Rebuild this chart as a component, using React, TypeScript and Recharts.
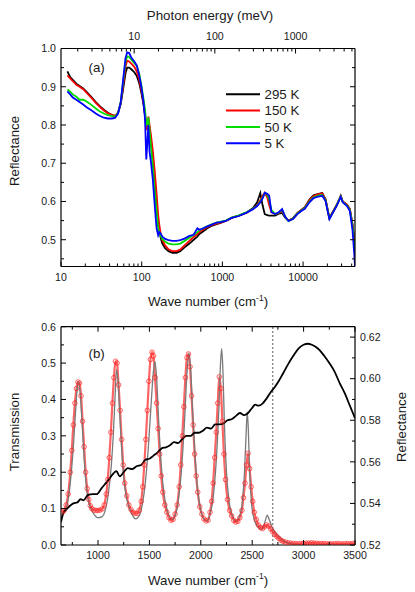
import React from 'react';
import { LineChart, Line, XAxis, YAxis, ReferenceLine, Legend } from 'recharts';

const FONT = '"Liberation Sans", Arial, Helvetica, sans-serif';
const TXT = '#1a1a1a';

// ---------- Panel (a): reflectance vs wave number (log) ----------
const waveNumberA = [
  12, 13, 14, 15.5, 17, 19, 21, 24, 27, 30,
  34, 38, 43, 47, 51, 55, 59, 63, 66, 70,
  75, 81, 87, 93, 99, 105, 110, 114, 118, 121,
  125, 130, 137, 145, 153, 160, 165, 172, 180, 195,
  215, 240, 270, 300, 340, 390, 440, 490, 520, 580,
  650, 750, 850, 950, 1100, 1300, 1600, 2000, 2400, 2700,
  2950, 3150, 3350, 3600, 3800, 4050, 4500, 5000, 5500, 6000,
  6600, 7500, 8500, 9500, 10500, 12000, 13500, 15500, 17300, 19000,
  20300, 21200, 23000, 26000, 28000, 29300, 31000, 35000, 38000, 41000,
  43000, 44000,
];
const refl295K = [
  0.940, 0.925, 0.918, 0.908, 0.902, 0.895, 0.885, 0.872, 0.860, 0.850,
  0.840, 0.832, 0.826, 0.824, 0.832, 0.855, 0.895, 0.935, 0.950, 0.950,
  0.945, 0.938, 0.928, 0.910, 0.885, 0.855, 0.825, 0.790, 0.790, 0.812,
  0.790, 0.760, 0.720, 0.650, 0.590, 0.548, 0.525, 0.505, 0.490, 0.478,
  0.470, 0.466, 0.466, 0.470, 0.480, 0.490, 0.500, 0.508, 0.515, 0.522,
  0.530, 0.537, 0.541, 0.544, 0.549, 0.557, 0.563, 0.571, 0.583, 0.598,
  0.622, 0.590, 0.567, 0.564, 0.563, 0.563, 0.563, 0.568, 0.570, 0.558,
  0.550, 0.556, 0.570, 0.578, 0.585, 0.605, 0.616, 0.620, 0.622, 0.606,
  0.575, 0.557, 0.570, 0.590, 0.605, 0.615, 0.600, 0.592, 0.580, 0.540,
  0.500, 0.482,
];
const refl150K = [
  0.930, 0.922, 0.915, 0.905, 0.900, 0.893, 0.883, 0.870, 0.858, 0.848,
  0.838, 0.831, 0.826, 0.824, 0.833, 0.858, 0.905, 0.952, 0.968, 0.966,
  0.960, 0.952, 0.940, 0.920, 0.892, 0.860, 0.830, 0.790, 0.795, 0.822,
  0.800, 0.775, 0.735, 0.680, 0.620, 0.565, 0.540, 0.515, 0.500, 0.485,
  0.475, 0.470, 0.470, 0.474, 0.485, 0.497, 0.507, 0.515, 0.520, 0.527,
  0.533, 0.539, 0.542, 0.545, 0.549, 0.557, 0.563, 0.571, 0.581, 0.590,
  0.603, 0.615, 0.623, 0.610, 0.590, 0.572, 0.567, 0.570, 0.575, 0.560,
  0.550, 0.555, 0.569, 0.577, 0.584, 0.603, 0.614, 0.619, 0.621, 0.605,
  0.575, 0.557, 0.570, 0.590, 0.605, 0.614, 0.600, 0.592, 0.580, 0.540,
  0.500, 0.482,
];
const refl50K = [
  0.893, 0.887, 0.880, 0.874, 0.866, 0.866, 0.861, 0.852, 0.843, 0.836,
  0.830, 0.826, 0.823, 0.822, 0.832, 0.860, 0.915, 0.965, 0.980, 0.978,
  0.970, 0.962, 0.955, 0.935, 0.905, 0.870, 0.840, 0.800, 0.805, 0.820,
  0.790, 0.745, 0.695, 0.630, 0.575, 0.530, 0.520, 0.510, 0.502, 0.495,
  0.490, 0.488, 0.488, 0.490, 0.497, 0.505, 0.512, 0.520, 0.525, 0.530,
  0.535, 0.541, 0.545, 0.547, 0.550, 0.558, 0.564, 0.572, 0.581, 0.589,
  0.600, 0.610, 0.622, 0.618, 0.605, 0.578, 0.567, 0.571, 0.578, 0.560,
  0.549, 0.555, 0.568, 0.576, 0.583, 0.600, 0.611, 0.615, 0.617, 0.603,
  0.574, 0.556, 0.569, 0.589, 0.604, 0.613, 0.599, 0.590, 0.578, 0.535,
  0.490, 0.470,
];
const refl5K = [
  0.888, 0.880, 0.872, 0.866, 0.860, 0.853, 0.846, 0.838, 0.830, 0.824,
  0.819, 0.817, 0.817, 0.819, 0.830, 0.860, 0.920, 0.975, 0.990, 0.988,
  0.975, 0.966, 0.955, 0.930, 0.900, 0.862, 0.815, 0.710, 0.760, 0.800,
  0.730, 0.705, 0.660, 0.590, 0.530, 0.512, 0.520, 0.516, 0.508, 0.502,
  0.499, 0.497, 0.497, 0.499, 0.503, 0.510, 0.513, 0.530, 0.526, 0.530,
  0.535, 0.540, 0.545, 0.546, 0.549, 0.557, 0.562, 0.571, 0.580, 0.588,
  0.598, 0.608, 0.623, 0.620, 0.615, 0.572, 0.567, 0.572, 0.580, 0.560,
  0.549, 0.554, 0.567, 0.575, 0.581, 0.598, 0.609, 0.613, 0.615, 0.601,
  0.572, 0.554, 0.568, 0.588, 0.603, 0.612, 0.598, 0.588, 0.575, 0.525,
  0.465, 0.430,
];
const seriesNamesA = ['295 K', '150 K', '50 K', '5 K'];
const seriesKeysA = ['k295', 'k150', 'k50', 'k5'];
const seriesColorsA = ['#000000', '#ff0000', '#00dd00', '#0000ff'];

const logTicksA = [
  10, 20, 30, 40, 50, 60, 70, 80, 90,
  100, 200, 300, 400, 500, 600, 700, 800, 900,
  1000, 2000, 3000, 4000, 5000, 6000, 7000, 8000, 9000,
  10000, 20000, 30000, 40000,
];
const photonTicksMeV = [
  2, 3, 4, 5, 6, 7, 8, 9,
  10, 20, 30, 40, 50, 60, 70, 80, 90,
  100, 200, 300, 400, 500, 600, 700, 800, 900,
  1000, 2000, 3000, 4000, 5000,
];
const MEV_TO_CM = 8.0655;
const reflTicksA = [0.45, 0.5, 0.55, 0.6, 0.65, 0.7, 0.75, 0.8, 0.85, 0.9, 0.95, 1.0];

// ---------- Panel (b): transmission & reflectance ----------
const transMeasured: [number, number][] = [
  [650, 0.09], [670, 0.095], [690, 0.11], [710, 0.14], [730, 0.2], [745, 0.26], [760, 0.33], [775, 0.39],
  [790, 0.43], [805, 0.448], [820, 0.445], [835, 0.41], [850, 0.34], [865, 0.27], [880, 0.2], [895, 0.155],
  [910, 0.125], [925, 0.108], [940, 0.1], [960, 0.096], [980, 0.095], [1000, 0.095], [1020, 0.096], [1040, 0.099],
  [1060, 0.11], [1080, 0.14], [1095, 0.18], [1110, 0.24], [1125, 0.31], [1140, 0.39], [1155, 0.46], [1170, 0.505],
  [1185, 0.5], [1200, 0.44], [1215, 0.37], [1230, 0.29], [1245, 0.22], [1260, 0.17], [1280, 0.135], [1300, 0.11],
  [1320, 0.098], [1340, 0.09], [1360, 0.087], [1380, 0.087], [1400, 0.095], [1420, 0.12], [1435, 0.16], [1450, 0.22],
  [1465, 0.29], [1480, 0.37], [1495, 0.45], [1510, 0.51], [1525, 0.53], [1540, 0.52], [1555, 0.46], [1570, 0.39],
  [1585, 0.32], [1600, 0.25], [1615, 0.19], [1630, 0.145], [1650, 0.11], [1670, 0.09], [1690, 0.075], [1710, 0.068],
  [1730, 0.07], [1750, 0.085], [1770, 0.11], [1790, 0.16], [1805, 0.22], [1820, 0.3], [1835, 0.38], [1850, 0.46],
  [1865, 0.515], [1880, 0.525], [1895, 0.49], [1910, 0.41], [1925, 0.33], [1940, 0.25], [1955, 0.19], [1970, 0.145],
  [1990, 0.105], [2010, 0.085], [2030, 0.072], [2050, 0.066], [2070, 0.068], [2090, 0.09], [2105, 0.12], [2120, 0.17],
  [2135, 0.24], [2150, 0.31], [2165, 0.39], [2180, 0.462], [2195, 0.43], [2210, 0.34], [2225, 0.25], [2240, 0.18],
  [2260, 0.125], [2280, 0.095], [2300, 0.08], [2320, 0.068], [2340, 0.063], [2360, 0.065], [2380, 0.075], [2400, 0.095],
  [2415, 0.13], [2430, 0.17], [2445, 0.22], [2460, 0.252], [2475, 0.21], [2490, 0.16], [2505, 0.12], [2520, 0.09],
  [2540, 0.07], [2560, 0.055], [2580, 0.048], [2600, 0.045], [2620, 0.05], [2640, 0.055], [2660, 0.052], [2680, 0.044],
  [2700, 0.036], [2720, 0.029], [2740, 0.023], [2760, 0.018], [2780, 0.013], [2800, 0.01], [2825, 0.008], [2850, 0.006],
  [2875, 0.005], [2900, 0.004], [2925, 0.004], [2950, 0.003], [2975, 0.004], [3000, 0.004], [3025, 0.005], [3050, 0.005],
  [3075, 0.006], [3100, 0.005], [3125, 0.005], [3150, 0.004], [3175, 0.004], [3200, 0.004], [3225, 0.003], [3250, 0.003],
  [3275, 0.003], [3300, 0.003], [3325, 0.004], [3350, 0.003], [3375, 0.003], [3400, 0.003], [3425, 0.004], [3450, 0.003],
  [3475, 0.004], [3500, 0.004],
];
const transFit: [number, number][] = [
  [650, 0.08], [700, 0.11], [730, 0.17], [760, 0.27], [780, 0.36], [795, 0.42], [808, 0.45], [822, 0.43],
  [840, 0.36], [860, 0.26], [880, 0.18], [900, 0.13], [930, 0.1], [960, 0.085], [1000, 0.075], [1040, 0.078],
  [1070, 0.095], [1100, 0.14], [1130, 0.22], [1150, 0.31], [1165, 0.4], [1180, 0.482], [1195, 0.45], [1215, 0.34],
  [1240, 0.22], [1265, 0.15], [1300, 0.105], [1330, 0.085], [1365, 0.072], [1400, 0.08], [1430, 0.11], [1460, 0.17],
  [1490, 0.27], [1515, 0.38], [1540, 0.48], [1555, 0.504], [1570, 0.46], [1590, 0.34], [1615, 0.22], [1640, 0.145],
  [1670, 0.1], [1700, 0.075], [1720, 0.07], [1750, 0.08], [1780, 0.12], [1810, 0.2], [1840, 0.33], [1865, 0.47],
  [1885, 0.528], [1900, 0.49], [1920, 0.37], [1945, 0.24], [1970, 0.15], [2000, 0.095], [2030, 0.072], [2060, 0.066],
  [2090, 0.085], [2120, 0.13], [2150, 0.23], [2175, 0.37], [2192, 0.5], [2203, 0.54], [2215, 0.48], [2230, 0.33],
  [2250, 0.2], [2275, 0.12], [2310, 0.08], [2340, 0.066], [2370, 0.075], [2400, 0.11], [2425, 0.2], [2440, 0.3],
  [2452, 0.366], [2462, 0.32], [2475, 0.2], [2495, 0.11], [2520, 0.07], [2560, 0.048], [2592, 0.043], [2620, 0.06],
  [2647, 0.082], [2665, 0.07], [2700, 0.045], [2740, 0.03], [2780, 0.018], [2830, 0.008], [2880, 0.003], [2950, 0.001],
  [3100, 0.001], [3500, 0.001],
];
const reflectanceB: [number, number][] = [
  [640, 0.531], [660, 0.535], [690, 0.537], [720, 0.5385], [760, 0.54], [800, 0.5405], [830, 0.542], [860, 0.5415],
  [900, 0.544], [950, 0.5445], [990, 0.5445], [1030, 0.547], [1080, 0.55], [1120, 0.5525], [1150, 0.5545], [1180, 0.5555],
  [1210, 0.553], [1250, 0.555], [1290, 0.557], [1330, 0.5565], [1380, 0.558], [1420, 0.5585], [1460, 0.561], [1500, 0.5615],
  [1540, 0.563], [1580, 0.5645], [1620, 0.5665], [1660, 0.567], [1700, 0.568], [1740, 0.5695], [1780, 0.569], [1820, 0.571],
  [1860, 0.5725], [1900, 0.5725], [1940, 0.574], [1980, 0.574], [2020, 0.575], [2060, 0.5765], [2100, 0.576], [2140, 0.578],
  [2180, 0.578], [2220, 0.5785], [2260, 0.58], [2300, 0.5805], [2340, 0.582], [2380, 0.5835], [2420, 0.5825], [2460, 0.5835],
  [2500, 0.586], [2530, 0.5875], [2560, 0.587], [2600, 0.588], [2640, 0.5905], [2680, 0.5935], [2720, 0.596], [2760, 0.599],
  [2800, 0.6025], [2850, 0.607], [2900, 0.611], [2950, 0.6145], [3000, 0.6163], [3040, 0.6168], [3080, 0.6163], [3120, 0.6152],
  [3160, 0.6135], [3200, 0.611], [3250, 0.6075], [3300, 0.6035], [3350, 0.598], [3400, 0.593], [3450, 0.587], [3500, 0.581],
];
const waveTicksB = [750, 1000, 1250, 1500, 1750, 2000, 2250, 2500, 2750, 3000, 3250, 3500];
const transTicks = [0, 0.05, 0.1, 0.15, 0.2, 0.25, 0.3, 0.35, 0.4, 0.45, 0.5, 0.55, 0.6];
const reflTicksB = [0.52, 0.53, 0.54, 0.55, 0.56, 0.57, 0.58, 0.59, 0.6, 0.61, 0.62];
const cutoffWaveNumber = 2700;

// ---------- derived tables ----------
const panelAData = waveNumberA.map((x, i) => ({
  x,
  k295: refl295K[i],
  k150: refl150K[i],
  k50: refl50K[i],
  k5: refl5K[i],
}));
const seriesA = [refl295K, refl150K, refl50K, refl5K];
const photonTicksCm = photonTicksMeV.map((m) => m * MEV_TO_CM);
const measuredData = transMeasured.map(([x, y]) => ({ x, y }));
const fitData = transFit.map(([x, y]) => ({ x, y }));
const reflBData = reflectanceB.map(([x, y]) => ({ x, y }));

// ---------- tick renderer ----------
type Side = 'left' | 'right' | 'top' | 'bottom';
const isDecade = (v: number) => Math.abs(Math.log10(v) - Math.round(Math.log10(v))) < 1e-6;
const isTenth = (v: number) => Math.abs(v * 10 - Math.round(v * 10)) < 1e-6;
const isFiftieth = (v: number) => Math.abs(v * 50 - Math.round(v * 50)) < 1e-6;

function makeTick(side: Side, isMajor: (v: number) => boolean, label: ((v: number) => string) | null) {
  return (props: any) => {
    const { x, y, payload } = props;
    const v = payload.value;
    const major = isMajor(v);
    const len = major ? 5 : 3;
    const txt = major && label ? label(v) : '';
    let x2 = x, y2 = y, tx = x, ty = y;
    let anchor: 'start' | 'middle' | 'end' = 'middle';
    if (side === 'left') { x2 = x + len; tx = x - 5; ty = y + 3.8; anchor = 'end'; }
    if (side === 'right') { x2 = x - len; tx = x + 5; ty = y + 3.8; anchor = 'start'; }
    if (side === 'bottom') { y2 = y - len; ty = y + 14; }
    if (side === 'top') { y2 = y + len; ty = y - 8.5; }
    return (
      <g>
        <line x1={x} y1={y} x2={x2} y2={y2} stroke="#000" strokeWidth={1} />
        {txt ? (
          <text x={tx} y={ty} textAnchor={anchor} fontSize={10.6} fontFamily={FONT} fill={TXT}>
            {txt}
          </text>
        ) : null}
      </g>
    );
  };
}

const axisStyle = { stroke: '#000', strokeWidth: 1.2 };
const common = { tickSize: 0, tickMargin: 0, tickLine: false, interval: 0 as const, axisLine: axisStyle, allowDataOverflow: true };

// Legend drawn in the series order (295 K, 150 K, 50 K, 5 K)
const renderLegend = () => (
  <svg width={110} height={66} style={{ display: 'block' }}>
    {seriesNamesA.map((name, i) => {
      const cy = 8.3 + i * 16.3;
      return (
        <g key={name}>
          <line x1={0} x2={34} y1={cy} y2={cy} stroke={seriesColorsA[i]} strokeWidth={2} />
          <text x={38.5} y={cy + 4.8} fontSize={13.3} fontFamily={FONT} fill={TXT}>{name}</text>
        </g>
      );
    })}
  </svg>
);

const WaveTitle = ({ y }: { y: number }) => (
  <text x={208} y={y} textAnchor="middle" fontSize={13.3} fontFamily={FONT} fill={TXT}>
    Wave number (cm<tspan fontSize={8.5} dy={-5.5}>-1</tspan><tspan dy={5.5}>)</tspan>
  </text>
);

const VTitle = ({ x, y, children }: { x: number; y: number; children: string }) => (
  <text transform={`translate(${x},${y}) rotate(-90)`} textAnchor="middle" dy="0.36em" fontSize={13.3} fontFamily={FONT} fill={TXT}>
    {children}
  </text>
);

export default function App() {
  return (
    <div style={{ position: 'absolute', left: 0, top: 0, width: 415, height: 592, background: '#fff' }}>
      <div style={{ position: 'absolute', left: 0, top: 0 }}>
        <LineChart width={415} height={300} data={panelAData} margin={{ top: 0, right: 0, bottom: 0, left: 0 }}>
          <XAxis xAxisId="bottom" dataKey="x" type="number" scale="log" domain={[10, 44000]} ticks={logTicksA}
            orientation="bottom" height={33.5} tick={makeTick('bottom', isDecade, (v) => String(v))} {...common} />
          <XAxis xAxisId="top" dataKey="x" type="number" scale="log" domain={[10, 44000]} ticks={photonTicksCm}
            orientation="top" height={48.5}
            tick={makeTick('top', (v) => isDecade(v / MEV_TO_CM), (v) => String(Math.round(v / MEV_TO_CM)))} {...common} />
          <YAxis yAxisId="left" type="number" domain={[0.43, 1.0]} ticks={reflTicksA} width={61}
            tick={makeTick('left', isTenth, (v) => v.toFixed(1))} {...common} />
          <YAxis yAxisId="right" orientation="right" type="number" domain={[0.43, 1.0]} ticks={reflTicksA} width={60}
            tick={makeTick('right', isTenth, null)} {...common} />
          <Legend layout="vertical" align="center" verticalAlign="middle" content={renderLegend}
            wrapperStyle={{ left: 226, top: 86, width: 110 }} />
          {seriesA.map((_, i) => (
            <Line key={seriesKeysA[i]} xAxisId="bottom" yAxisId="left" type="linear" dataKey={seriesKeysA[i]}
              name={seriesNamesA[i]} stroke={seriesColorsA[i]} strokeWidth={1.8} dot={false}
              isAnimationActive={false} />
          ))}
        </LineChart>
      </div>
      <div style={{ position: 'absolute', left: 0, top: 300 }}>
        <LineChart width={415} height={292} margin={{ top: 0, right: 0, bottom: 0, left: 0 }}>
          <XAxis xAxisId="bottom" dataKey="x" type="number" domain={[640, 3500]} ticks={waveTicksB}
            orientation="bottom" height={47} tick={makeTick('bottom', (v) => v % 500 === 0, (v) => String(v))} {...common} />
          <XAxis xAxisId="top" dataKey="x" type="number" domain={[640, 3500]} ticks={waveTicksB}
            orientation="top" height={26.7} tick={makeTick('top', (v) => v % 500 === 0, null)} {...common} />
          <YAxis yAxisId="left" type="number" domain={[0, 0.6]} ticks={transTicks} width={61}
            tick={makeTick('left', isTenth, (v) => v.toFixed(1))} {...common} />
          <YAxis yAxisId="right" orientation="right" type="number" domain={[0.52, 0.625]} ticks={reflTicksB} width={60}
            tick={makeTick('right', isFiftieth, (v) => v.toFixed(2))} {...common} />
          <ReferenceLine xAxisId="bottom" yAxisId="left" x={cutoffWaveNumber} stroke="#777" strokeWidth={1.2}
            strokeDasharray="2 2" />
          <Line data={measuredData} xAxisId="bottom" yAxisId="left" type="monotone" dataKey="y" name="Measured"
            stroke="#ff3030" strokeWidth={2.2} strokeOpacity={0.75}
            dot={{ r: 2.3, fill: 'none', stroke: '#ff2020', strokeWidth: 0.9 }} isAnimationActive={false} />
          <Line data={fitData} xAxisId="bottom" yAxisId="left" type="monotone" dataKey="y" name="Fit"
            stroke="#7a7a7a" strokeWidth={1.3} dot={false} isAnimationActive={false} />
          <Line data={reflBData} xAxisId="bottom" yAxisId="right" type="monotone" dataKey="y" name="Reflectance"
            stroke="#000" strokeWidth={1.8} dot={false} isAnimationActive={false} />
        </LineChart>
      </div>
      <svg width={415} height={592} style={{ position: 'absolute', left: 0, top: 0, pointerEvents: 'none' }}>
        <text x={210} y={19.8} textAnchor="middle" fontSize={13.3} fontFamily={FONT} fill={TXT}>Photon energy (meV)</text>
        <text x={88.5} y={71.5} fontSize={13.3} fontFamily={FONT} fill={TXT}>(a)</text>
        <WaveTitle y={306} />
        <VTitle x={14} y={151}>Reflectance</VTitle>
        <text x={88.5} y={358} fontSize={13.3} fontFamily={FONT} fill={TXT}>(b)</text>
        <VTitle x={14} y={432}>Transmission</VTitle>
        <VTitle x={401.5} y={427}>Reflectance</VTitle>
        <WaveTitle y={584.5} />
      </svg>
    </div>
  );
}
